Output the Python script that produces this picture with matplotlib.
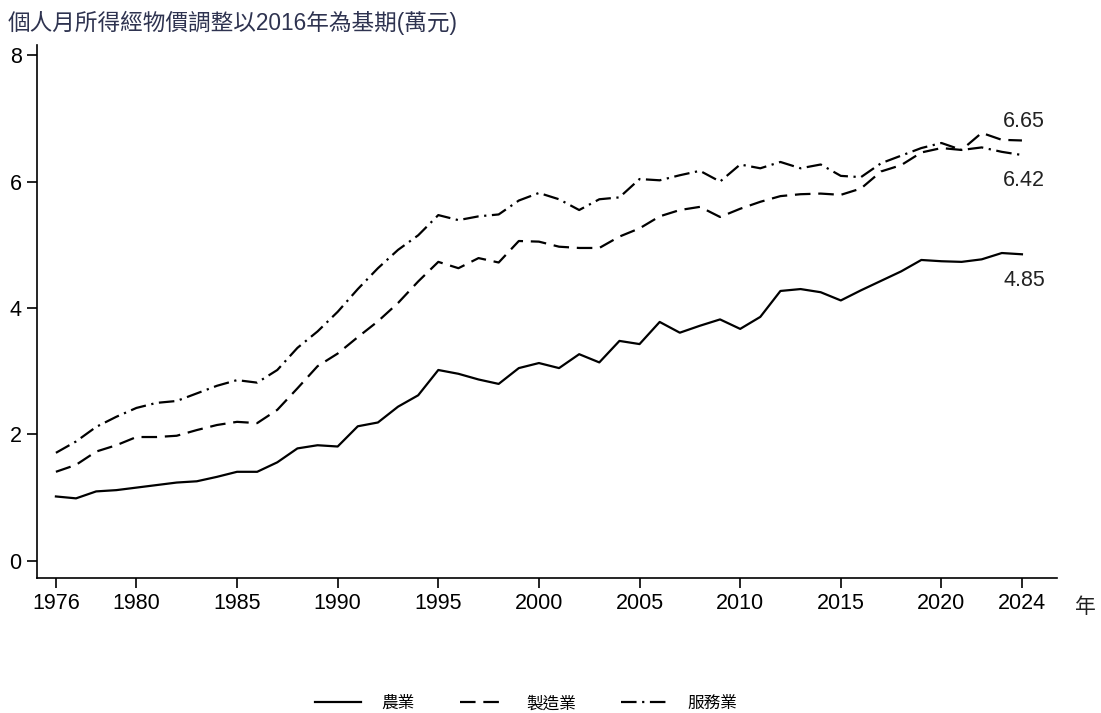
import numpy as np
import matplotlib
matplotlib.use("Agg")
from matplotlib import pyplot as plt

plt.rcParams['font.family'] = ['Liberation Sans', 'Noto Sans CJK TC', 'DejaVu Sans']

years = list(range(1976, 2025))

# 農業
agri = [1.02, 0.99, 1.10, 1.12, 1.16, 1.20, 1.24, 1.26, 1.33, 1.41,
        1.41, 1.56, 1.78, 1.83, 1.81, 2.13, 2.19, 2.44, 2.62, 3.02,
        2.96, 2.87, 2.80, 3.05, 3.13, 3.05, 3.27, 3.14, 3.48, 3.43,
        3.78, 3.61, 3.72, 3.82, 3.67, 3.86, 4.27, 4.30, 4.25, 4.12,
        4.28, 4.43, 4.58, 4.76, 4.74, 4.73, 4.77, 4.87, 4.85]

# 製造業
manu = [1.41, 1.52, 1.73, 1.83, 1.96, 1.96, 1.98, 2.07, 2.15, 2.20,
        2.18, 2.39, 2.73, 3.08, 3.28, 3.54, 3.79, 4.08, 4.42, 4.73,
        4.63, 4.79, 4.72, 5.06, 5.05, 4.97, 4.95, 4.95, 5.13, 5.26,
        5.45, 5.55, 5.60, 5.44, 5.57, 5.68, 5.77, 5.80, 5.81, 5.79,
        5.89, 6.16, 6.26, 6.46, 6.53, 6.50, 6.77, 6.66, 6.65]

# 服務業
serv = [1.71, 1.89, 2.12, 2.28, 2.42, 2.50, 2.53, 2.65, 2.77, 2.86,
        2.82, 3.02, 3.37, 3.63, 3.94, 4.30, 4.63, 4.92, 5.15, 5.47,
        5.39, 5.45, 5.48, 5.70, 5.82, 5.72, 5.55, 5.72, 5.75, 6.04,
        6.02, 6.10, 6.17, 6.00, 6.27, 6.21, 6.31, 6.21, 6.27, 6.09,
        6.07, 6.29, 6.41, 6.53, 6.61, 6.50, 6.54, 6.47, 6.42]

end_labels = ["6.65", "6.42", "4.85"]
label_y = [6.95, 6.02, 4.44]

xticks = [1976, 1980, 1985, 1990, 1995, 2000, 2005, 2010, 2015, 2020, 2024]
yticks = [0, 2, 4, 6, 8]

fig = plt.figure(figsize=(11.01, 7.13), dpi=100)
ax = fig.add_axes([0.0336, 0.1893, 0.9264, 0.7476])

ax.plot(years, agri, color='black', lw=1.6, linestyle='-', label='農業')
ax.plot(years, manu, color='black', lw=1.6, linestyle=(0, (7, 3.5)), label='製造業')
ax.plot(years, serv, color='black', lw=1.6, linestyle=(0, (7, 2.5, 1, 2.5)), label='服務業')

for txt, yv in zip(end_labels, label_y):
    ax.text(2024.1, yv, txt, fontsize=15.5, ha='center', va='center', color='#222222')

ax.set_xlim(1975.06, 2025.74)
ax.set_ylim(-0.27, 8.16)
ax.set_xticks(xticks)
ax.set_yticks(yticks)
ax.tick_params(axis='both', direction='out', length=7, width=1.2, labelsize=15.5,
               colors='black', pad=4)
ax.spines['top'].set_visible(False)
ax.spines['right'].set_visible(False)
ax.spines['left'].set_linewidth(1.2)
ax.spines['bottom'].set_linewidth(1.2)

fig.text(0.007, 0.968, '個人月所得經物價調整以2016年為基期(萬元)', fontsize=16.3,
         color='#2e3350', ha='left', va='center',
         family=['Liberation Sans', 'Noto Sans CJK TC'])
fig.text(0.976, 0.149, '年', fontsize=15, ha='left', va='center', color='#222222',
         family=['Noto Sans CJK TC'])

leg = fig.legend(loc='center', bbox_to_anchor=(0.478, 0.013), ncol=3, frameon=False,
                 handlelength=2.8, columnspacing=2.7, handletextpad=1.2,
                 prop={'family': ['Noto Sans CJK TC'], 'size': 12})

fig.savefig('out.png', dpi=100)
